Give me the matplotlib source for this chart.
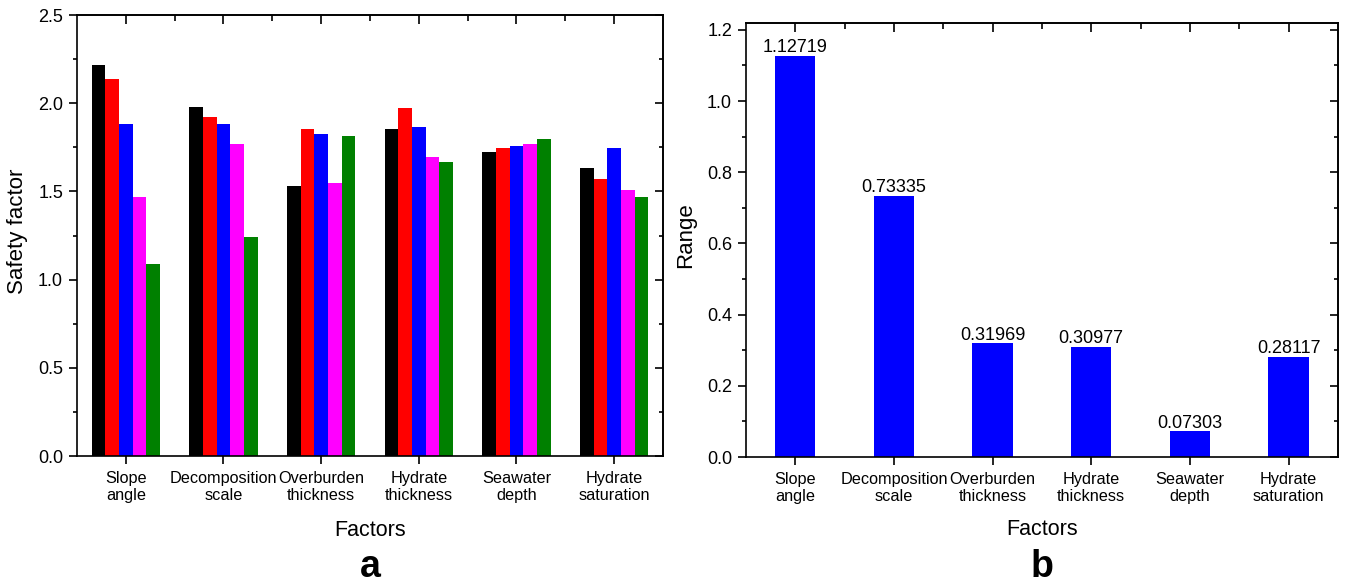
import numpy as np
import matplotlib as mpl
mpl.use('Agg')
import matplotlib.pyplot as plt
from matplotlib.ticker import MultipleLocator, FixedLocator, NullLocator

plt.rcParams['font.family'] = ['Liberation Sans', 'DejaVu Sans']

factors = ['Slope\nangle', 'Decomposition\nscale', 'Overburden\nthickness',
           'Hydrate\nthickness', 'Seawater\ndepth', 'Hydrate\nsaturation']

# safety factor for the five levels of each factor (panel a)
level1 = [2.215, 1.977, 1.532, 1.855, 1.723, 1.632]
level2 = [2.139, 1.922, 1.852, 1.975, 1.745, 1.572]
level3 = [1.883, 1.881, 1.826, 1.864, 1.760, 1.747]
level4 = [1.466, 1.768, 1.549, 1.694, 1.768, 1.509]
level5 = [1.088, 1.244, 1.813, 1.666, 1.796, 1.466]
level_colors = ['#000000', '#ff0000', '#0000ff', '#ff00ff', '#008000']

# range of the safety factor (panel b)
ranges = [1.12719, 0.73335, 0.31969, 0.30977, 0.07303, 0.28117]

x = np.arange(1, len(factors) + 1)
LW = 1.2


def style_axes(ax, ymax, ymaj, ymin):
    ax.set_xlim(0.5, 6.5)
    ax.set_ylim(0, ymax)
    ax.set_xticks(x)
    ax.set_xticklabels(factors, fontsize=11.7, linespacing=1.15)
    ax.xaxis.set_minor_locator(NullLocator())
    ax.yaxis.set_major_locator(MultipleLocator(ymaj))
    ax.yaxis.set_minor_locator(MultipleLocator(ymin))
    ax.tick_params(axis='x', which='major', direction='out', length=6, width=LW, pad=5)
    ax.tick_params(axis='y', which='major', direction='out', length=6, width=LW,
                   labelsize=13, pad=4)
    ax.tick_params(axis='y', which='minor', direction='out', length=3, width=LW)
    for s in ax.spines.values():
        s.set_linewidth(LW)

    right = ax.secondary_yaxis('right')
    right.yaxis.set_major_locator(MultipleLocator(ymaj))
    right.yaxis.set_minor_locator(MultipleLocator(ymin))
    right.tick_params(which='major', direction='in', length=6, width=LW, labelright=False)
    right.tick_params(which='minor', direction='in', length=3, width=LW)
    right.spines['right'].set_linewidth(LW)

    top = ax.secondary_xaxis('top')
    top.set_xticks(x)
    top.xaxis.set_minor_locator(FixedLocator(x[:-1] + 0.5))
    top.tick_params(which='major', direction='in', length=6.5, width=LW, labeltop=False)
    top.tick_params(which='minor', direction='in', length=4, width=LW)
    top.spines['top'].set_linewidth(LW)


fig = plt.figure(figsize=(13.45, 5.85), dpi=100)

# ---- panel a
ax1 = fig.add_axes([0.0572, 0.2205, 0.4357, 0.7538])
bw = 0.14
for i, (vals, c) in enumerate(zip([level1, level2, level3, level4, level5], level_colors)):
    ax1.bar(x + (i - 2) * bw, vals, width=bw, color=c, edgecolor='none')
style_axes(ax1, 2.5, 0.5, 0.25)
ax1.set_ylabel('Safety factor', fontsize=16)
ax1.set_xlabel('Factors', fontsize=15.5)
ax1.yaxis.set_label_coords(-0.084, 0.51)
ax1.xaxis.set_label_coords(0.5, -0.145)

# ---- panel b
ax2 = fig.add_axes([0.5546, 0.2188, 0.4401, 0.7424])
ax2.bar(x, ranges, width=0.41, color='#0000ff', edgecolor='none')
for xi, v in zip(x, ranges):
    ax2.annotate(f'{v:.5f}', (xi, v), xytext=(0, 2.5), textcoords='offset points',
                 ha='center', va='baseline', fontsize=13)
style_axes(ax2, 1.22, 0.2, 0.1)
ax2.set_ylabel('Range', fontsize=16)
ax2.set_xlabel('Factors', fontsize=15.5)
ax2.yaxis.set_label_coords(-0.084, 0.51)
ax2.xaxis.set_label_coords(0.5, -0.142)

fig.text(0.2752, 0.0, 'a', fontsize=27, fontweight='bold', ha='center', va='bottom')
fig.text(0.7747, 0.0, 'b', fontsize=27, fontweight='bold', ha='center', va='bottom')

fig.savefig('out.png', dpi=100)
